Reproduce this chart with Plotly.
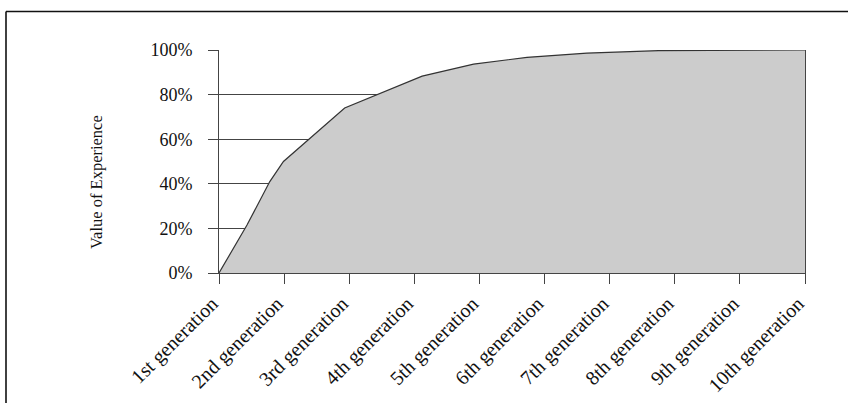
import plotly.graph_objects as go

# Data (x in generation units, 1 = 1st generation)
curve_x = [1, 1.43, 1.78, 1.99, 2.93, 4.12, 4.91, 5.73, 6.65, 7.75, 10]
curve_y = [0, 21.5, 41, 50, 74, 88.3, 93.7, 96.7, 98.6, 99.7, 100]
gen_pos = [1, 2, 3, 4, 5, 6, 7, 8, 9, 10]
gen_labels = ["1st generation", "2nd generation", "3rd generation", "4th generation",
              "5th generation", "6th generation", "7th generation", "8th generation",
              "9th generation", "10th generation"]
y_ticks = [0, 20, 40, 60, 80, 100]
y_title = "Value of Experience"

W, H = 848, 403
L, R, T, B = 219, 43, 50, 130
pw, ph = W - L - R, H - T - B

def px(x):
    return (x - L) / pw

def py(y):
    return (H - B - y) / ph

fig = go.Figure()
fig.add_trace(go.Scatter(
    x=curve_x, y=curve_y, mode="lines", fill="tozeroy",
    fillcolor="#cccccc", line=dict(color="#333333", width=1.2),
    hoverinfo="skip", showlegend=False,
))

serif = "Liberation Serif"
fig.update_layout(
    width=W, height=H,
    margin=dict(l=L, r=R, t=T, b=B, autoexpand=False),
    paper_bgcolor="white", plot_bgcolor="white",
    font=dict(family=serif, color="#111111"),
    xaxis=dict(
        range=[1, 10], tickmode="array", tickvals=gen_pos, ticktext=gen_labels,
        tickangle=-45, ticks="outside", ticklen=10, tickcolor="#444444",
        showline=True, linecolor="#444444", linewidth=1, showgrid=False,
        zeroline=False, automargin=False, ticklabelshift=-7,
        tickfont=dict(family=serif, size=20, color="#111111"),
    ),
    yaxis=dict(
        range=[0, 100], tickmode="array", tickvals=y_ticks,
        ticktext=[f"{v}%" for v in y_ticks],
        ticks="outside", ticklen=10, tickcolor="#444444",
        showline=True, linecolor="#444444", linewidth=1, mirror=True,
        showgrid=True, gridcolor="#444444", gridwidth=1, zeroline=False,
        ticklabelstandoff=12, automargin=False,
        tickfont=dict(family=serif, size=18, color="#111111"),
        layer="below traces",
    ),
    annotations=[dict(
        text=y_title, xref="paper", yref="paper", x=px(97), y=py(182),
        xanchor="center", yanchor="middle", textangle=-90, showarrow=False,
        font=dict(family=serif, size=16.5, color="#111111"),
    )],
    shapes=[
        dict(type="line", xref="paper", yref="paper", x0=px(6), x1=px(850),
             y0=py(11.5), y1=py(11.5), line=dict(color="#111111", width=1.6)),
        dict(type="line", xref="paper", yref="paper", x0=px(6), x1=px(6),
             y0=py(11.5), y1=py(405), line=dict(color="#111111", width=1.6)),
    ],
)

fig.write_html(
    "out.html",
    config={"displayModeBar": False},
    post_script="document.body.style.margin='0';document.body.style.overflow='hidden';",
)
